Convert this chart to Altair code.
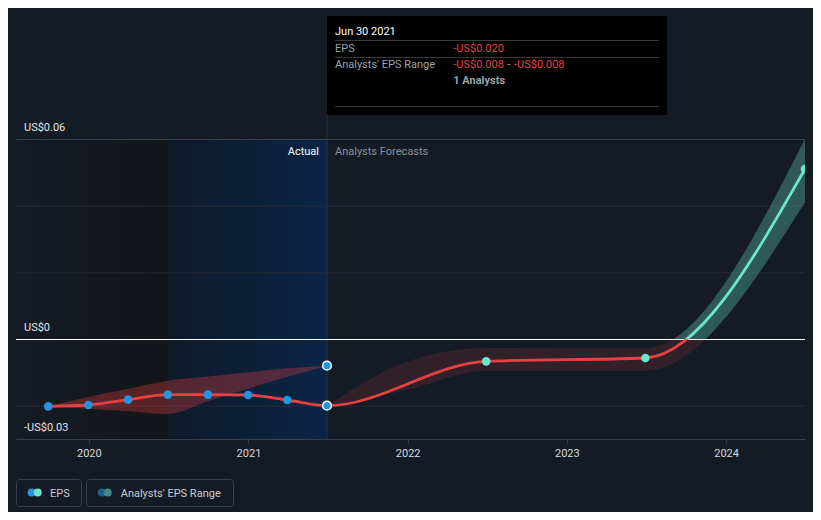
import altair as alt
import pandas as pd

# ---------------- data ----------------
eps_dates = ["2019-09-30", "2019-12-31", "2020-03-31", "2020-06-30",
             "2020-09-30", "2020-12-31", "2021-03-31", "2021-06-30"]
eps_actual = [-0.0202, -0.0198, -0.0182, -0.0167, -0.0167, -0.0168, -0.0183, -0.0200]

past_range_low = [-0.0202, -0.0209, -0.0217, -0.0225, -0.0187, -0.0149, -0.0113, -0.0080]
past_range_high = [-0.0202, -0.0174, -0.0149, -0.0125, -0.01125, -0.0100, -0.0088, -0.0080]

estimate_date = ["2021-06-30"]
estimate_value = [-0.008]

forecast_dates = ["2022-06-30", "2023-06-30", "2024-06-30"]
eps_forecast = [-0.0067, -0.0057, 0.051]

band_dates = ["2021-06-30", "2021-12-31", "2022-06-30", "2023-06-30", "2024-06-30"]
band_low = [-0.0200, -0.0152, -0.0095, -0.0095, 0.041]
band_high = [-0.0200, -0.0068, -0.0027, -0.0028, 0.060]

y_label_vals = [0.06, 0.0, -0.03]
y_label_texts = ["US$0.06", "US$0", "-US$0.03"]
dim_grid_vals = [-0.02, 0.02, 0.04]
top_grid_val = [0.06]
zero_val = [0.0]

region_past = ["2019-07-18", "2020-06-30"]
region_actual = ["2020-06-30", "2021-06-30"]

# ---------------- style ----------------
BG = "#151b25"
RED = "#e64141"
TEAL = "#6ce5d0"
BLUE = "#2394df"
FONT = "Roboto"

x_dom = [alt.DateTime(year=2019, month=7, date=18, utc=True),
         alt.DateTime(year=2024, month=6, date=30, utc=True)]
xscale = alt.Scale(type="utc", domain=x_dom)
yscale = alt.Scale(domain=[-0.03, 0.06], nice=False, zero=False)

XAXIS = alt.Axis(format="%Y", tickCount="year", domainColor="#3b404a",
                 tickColor="#3b404a", tickSize=4, labelColor="#d5d8dd",
                 labelFontSize=11, labelFont=FONT, labelPadding=4,
                 grid=False, domainWidth=1, title=None)


def X(f):
    return alt.X(f, type="temporal", scale=xscale, axis=XAXIS, title=None)


def Y(f):
    return alt.Y(f, type="quantitative", scale=yscale, axis=None, title=None)


line_df = pd.DataFrame({"date": eps_dates + forecast_dates,
                        "eps": eps_actual + eps_forecast})
past_pts = pd.DataFrame({"date": eps_dates, "eps": eps_actual})
fut_pts = pd.DataFrame({"date": forecast_dates, "eps": eps_forecast})
hover_pts = pd.DataFrame({"date": [eps_dates[-1]] + estimate_date,
                          "eps": [eps_actual[-1]] + estimate_value})
past_band = pd.DataFrame({"date": eps_dates, "lo": past_range_low, "hi": past_range_high})
fc_band = pd.DataFrame({"date": band_dates, "lo": band_low, "hi": band_high})

# gradient split at zero (offset within bounding box of the mark)
lmax, lmin = max(line_df["eps"]), min(line_df["eps"])
z_line = lmax / (lmax - lmin)
bmax, bmin = max(band_high), min(band_low)
z_band = bmax / (bmax - bmin)


def vgrad(z, top, bottom):
    return alt.Gradient(gradient="linear", x1=0, y1=0, x2=0, y2=1,
                        stops=[alt.GradientStop(offset=0, color=top),
                               alt.GradientStop(offset=z, color=top),
                               alt.GradientStop(offset=z, color=bottom),
                               alt.GradientStop(offset=1, color=bottom)])


def hgrad(c0, c1):
    return alt.Gradient(gradient="linear", x1=0, y1=0, x2=1, y2=0,
                        stops=[alt.GradientStop(offset=0, color=c0),
                               alt.GradientStop(offset=1, color=c1)])


# ---------------- layers ----------------
bg1 = alt.Chart(pd.DataFrame({"s": [region_past[0]], "e": [region_past[1]]})).mark_rect(
    fill=hgrad("#161b24", "#121519")).encode(
    x=X("s"), x2="e", y=alt.value(0), y2=alt.value(300))
bg2 = alt.Chart(pd.DataFrame({"s": [region_actual[0]], "e": [region_actual[1]]})).mark_rect(
    fill=hgrad("#0f1a2a", "#0a2547")).encode(
    x=X("s"), x2="e", y=alt.value(0), y2=alt.value(300))

grid_dim = alt.Chart(pd.DataFrame({"v": dim_grid_vals})).mark_rule(
    color="#262b35", strokeWidth=1, yOffset=0.5).encode(y=Y("v"))
grid_top = alt.Chart(pd.DataFrame({"v": top_grid_val})).mark_rule(
    color="#3b404a", strokeWidth=1, yOffset=0.5).encode(y=Y("v"))
zero_line = alt.Chart(pd.DataFrame({"v": zero_val})).mark_rule(
    color="#ffffff", strokeWidth=1, yOffset=0.5).encode(y=Y("v"))

vline = alt.Chart(pd.DataFrame({"d": estimate_date})).mark_rule(
    color="#1f3352", strokeWidth=1).encode(x=X("d"), y=alt.value(-24), y2=alt.value(300))

ylabels = alt.Chart(pd.DataFrame({"v": y_label_vals, "t": y_label_texts})).mark_text(
    align="left", baseline="alphabetic", dy=-8, fontSize=11, font=FONT, color="#e2e5ea").encode(
    x=alt.value(8), y=Y("v"), text="t:N")

fc_area = alt.Chart(fc_band).mark_area(
    interpolate="monotone", clip=True,
    fill=vgrad(z_band, "rgba(108,229,208,0.30)", "rgba(230,65,65,0.14)")).encode(
    x=X("date"), y=Y("lo"), y2="hi")

line = alt.Chart(line_df).mark_line(
    interpolate="monotone", strokeWidth=2.8, clip=True,
    stroke=vgrad(z_line, TEAL, RED)).encode(
    x=X("date"), y=Y("eps"))

past_area = alt.Chart(past_band).mark_area(
    interpolate="monotone", color=RED, opacity=0.33, clip=True).encode(
    x=X("date"), y=Y("lo"), y2="hi")

past_dots = alt.Chart(past_pts).mark_circle(size=75, color=BLUE, opacity=1).encode(
    x=X("date"), y=Y("eps"))
fut_dots = alt.Chart(fut_pts).mark_circle(size=75, color=TEAL, opacity=1, clip=True).encode(
    x=X("date"), y=Y("eps"))
hover_dots = alt.Chart(hover_pts).mark_point(
    filled=True, shape="circle", size=75, fill=BLUE, stroke="#ffffff",
    strokeWidth=1.5, opacity=1).encode(x=X("date"), y=Y("eps"))

marker_df = pd.DataFrame({"d": estimate_date})
actual_txt = alt.Chart(marker_df).mark_text(
    text="Actual", align="right", baseline="alphabetic", dx=-8, fontSize=11,
    font=FONT, color="#ffffff").encode(x=X("d"), y=alt.value(16))
fc_txt = alt.Chart(marker_df).mark_text(
    text="Analysts Forecasts", align="left", baseline="alphabetic", dx=8, fontSize=11,
    font=FONT, color="#8c9099").encode(x=X("d"), y=alt.value(16))

one = pd.DataFrame({"k": [0]})


def txt(t, x, y, color, align="left", weight="normal"):
    return alt.Chart(one).mark_text(
        text=t, align=align, baseline="alphabetic", fontSize=11, font=FONT,
        color=color, fontWeight=weight).encode(x=alt.value(x), y=alt.value(y))


def hrule(x0, x1, y, color):
    return alt.Chart(one).mark_rule(color=color, strokeWidth=1).encode(
        x=alt.value(x0), x2=alt.value(x1), y=alt.value(y))


def box(x0, x1, y0, y1, fill, stroke=None, radius=0):
    kw = dict(fill=fill, cornerRadius=radius)
    if stroke:
        kw.update(stroke=stroke, strokeWidth=1)
    return alt.Chart(one).mark_rect(**kw).encode(
        x=alt.value(x0), x2=alt.value(x1), y=alt.value(y0), y2=alt.value(y1))


def dot(x, y, color):
    return alt.Chart(one).mark_circle(size=64, color=color, opacity=1).encode(
        x=alt.value(x), y=alt.value(y))


GRAY = "#9ea2a8"
tooltip = [
    box(311, 651, -123, -24, "#000000"),
    txt("Jun 30 2021", 319, -104, "#ffffff"),
    hrule(319, 643, -98.5, "#3a3a3a"),
    txt("EPS", 319, -87.3, GRAY),
    txt("-US$0.020", 437.3, -87.3, RED),
    hrule(319, 643, -81.5, "#3a3a3a"),
    txt("Analysts' EPS Range", 319, -70.7, GRAY),
    txt("-US$0.008", 437.3, -70.7, RED),
    txt("-", 492.7, -70.7, GRAY, align="center"),
    txt("-US$0.008", 498, -70.7, RED),
    txt("1 Analysts", 437.3, -54.7, GRAY, weight="bold"),
    hrule(319, 643, -32.5, "#3a3a3a"),
]

legend = [
    box(0.5, 65.5, 340.5, 367.5, BG, "#3a3f49", 3),
    dot(15.7, 353.5, BLUE),
    dot(21.7, 353.5, TEAL),
    txt("EPS", 34, 357.7, "#c9ccd1"),
    box(70.5, 217.5, 340.5, 367.5, BG, "#3a3f49", 3),
    dot(85.7, 353.5, "#1f5e8e"),
    dot(91.7, 353.5, "#3f8a87"),
    txt("Analysts' EPS Range", 104.7, 357.7, "#c9ccd1"),
]

chart = alt.layer(
    bg1, bg2, grid_dim, grid_top, vline, zero_line,
    fc_area, line, past_area,
    past_dots, fut_dots, hover_dots,
    ylabels, actual_txt, fc_txt,
    *tooltip, *legend,
).properties(
    width=789, height=300,
    padding={"left": 8, "top": 131, "right": 8, "bottom": 73},
    autosize=alt.AutoSizeParams(type="none"),
    background=BG,
).configure_view(stroke=None)

chart.save("out.html", embed_options={"renderer": "svg", "actions": False})
